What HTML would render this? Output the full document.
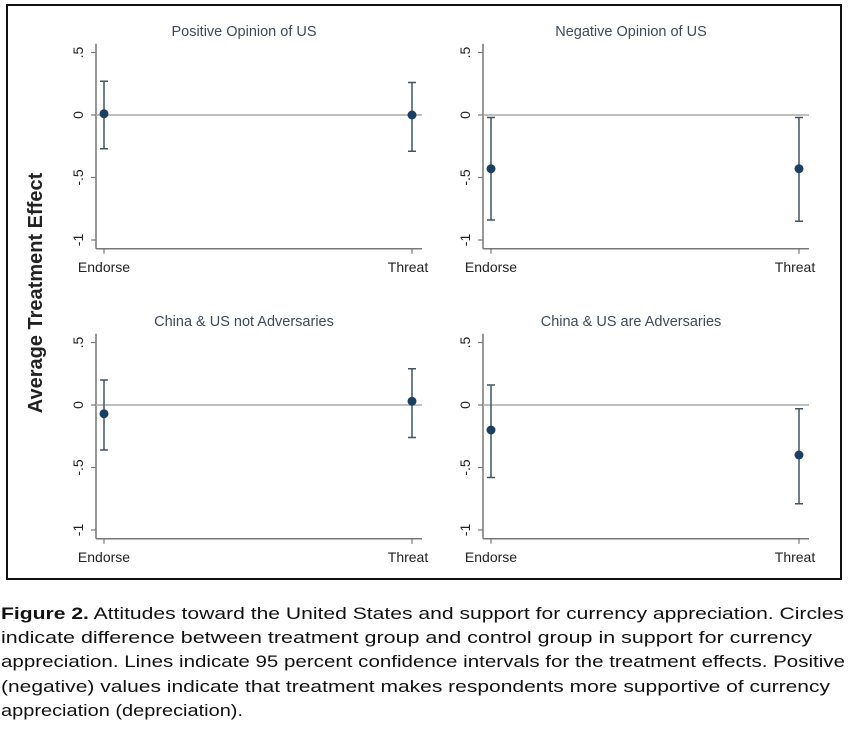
<!DOCTYPE html>
<html><head><meta charset="utf-8"><style>
body{margin:0;background:#fff;width:848px;height:731px;overflow:hidden;font-family:"Liberation Sans",sans-serif}
#frame{position:absolute;left:6px;top:4px;width:832px;height:572px;border:2px solid #111}
</style></head><body>
<div id="frame"></div>
<svg id="chart" width="848" height="590" style="position:absolute;left:0;top:0">
<text x="0" y="0" transform="translate(42,293) rotate(-90)" text-anchor="middle" font-size="20" font-weight="bold" fill="#222">Average Treatment Effect</text>
</svg>
<svg width="848" height="140" style="position:absolute;left:0;top:595px" font-size="17" fill="#111">
<text x="1" y="24" textLength="843" lengthAdjust="spacingAndGlyphs"><tspan font-weight="bold">Figure 2.</tspan> Attitudes toward the United States and support for currency appreciation. Circles</text>
<text x="1" y="48" textLength="811" lengthAdjust="spacingAndGlyphs">indicate difference between treatment group and control group in support for currency</text>
<text x="1" y="72" textLength="844" lengthAdjust="spacingAndGlyphs">appreciation. Lines indicate 95 percent confidence intervals for the treatment effects. Positive</text>
<text x="1" y="97" textLength="829" lengthAdjust="spacingAndGlyphs">(negative) values indicate that treatment makes respondents more supportive of currency</text>
<text x="1" y="121" textLength="242" lengthAdjust="spacingAndGlyphs">appreciation (depreciation).</text>
</svg>
<script>
const panelTitles=["Positive Opinion of US","Negative Opinion of US","China & US not Adversaries","China & US are Adversaries"];
const categories=["Endorse","Threat"];
const estimates=[[0.01,0.0],[-0.43,-0.43],[-0.07,0.03],[-0.2,-0.4]];
const lowerCI=[[-0.27,-0.29],[-0.84,-0.85],[-0.36,-0.26],[-0.58,-0.79]];
const upperCI=[[0.27,0.26],[-0.02,-0.02],[0.2,0.29],[0.16,-0.03]];
const yTicks=[0.5,0,-0.5,-1];
const yTickLabels=[".5","0","-.5","-1"];
const NS="http://www.w3.org/2000/svg";
const svg=document.getElementById('chart');
function mk(t,a,p){const e=document.createElementNS(NS,t);for(const k in a)e.setAttribute(k,a[k]);(p||svg).appendChild(e);return e;}
const origins=[[96,115],[483,115],[96,405],[483,405]];
panelTitles.forEach((title,i)=>{
 const ax=origins[i][0],y0=origins[i][1];
 const Y=v=>y0-v*125;
 const X=j=>ax+8+j*308;
 const g=mk('g',{});
 
 
 const t=mk('text',{x:ax+148,y:y0-79,'text-anchor':'middle','font-size':14.5,fill:'#3d4a5c'},g);t.textContent=title;
 
 
 mk('line',{x1:ax,x2:ax,y1:Y(0.57),y2:Y(-1.07),stroke:'#777','stroke-width':1.5},g);
 mk('line',{x1:ax,x2:ax+326,y1:Y(-1.07),y2:Y(-1.07),stroke:'#777','stroke-width':1.5},g);
 mk('line',{x1:ax,x2:ax+326,y1:Y(0),y2:Y(0),stroke:'#aaa','stroke-width':1.5},g);
 yTicks.forEach((v,k)=>{
  mk('line',{x1:ax-5,x2:ax,y1:Y(v),y2:Y(v),stroke:'#777','stroke-width':1.2},g);
  const l=mk('text',{transform:`translate(${ax-13},${Y(v)}) rotate(-90)`,'text-anchor':'middle','font-size':14,fill:'#222'},g);
  l.textContent=yTickLabels[k];
  
  
 });
 categories.forEach((c,j)=>{
  const x=X(j);
  mk('line',{x1:x,x2:x,y1:Y(-1.07),y2:Y(-1.07)+5,stroke:'#777','stroke-width':1.2},g);
  const l=mk('text',{x:x+(j?-4:0),y:Y(-1.07)+23,'text-anchor':'middle','font-size':14,fill:'#222'},g);l.textContent=c;
  
  
  const ci=mk('g',{stroke:'#3f5566','stroke-width':1.5},g);
  
  
  mk('line',{x1:x,x2:x,y1:Y(upperCI[i][j]),y2:Y(lowerCI[i][j])},ci);
  mk('line',{x1:x-4,x2:x+4,y1:Y(upperCI[i][j]),y2:Y(upperCI[i][j])},ci);
  mk('line',{x1:x-4,x2:x+4,y1:Y(lowerCI[i][j]),y2:Y(lowerCI[i][j])},ci);
  const p=mk('circle',{cx:x,cy:Y(estimates[i][j]),r:4.5,fill:'#1b3f62'},g);
  
  
 });
});
</script>
</body></html>
